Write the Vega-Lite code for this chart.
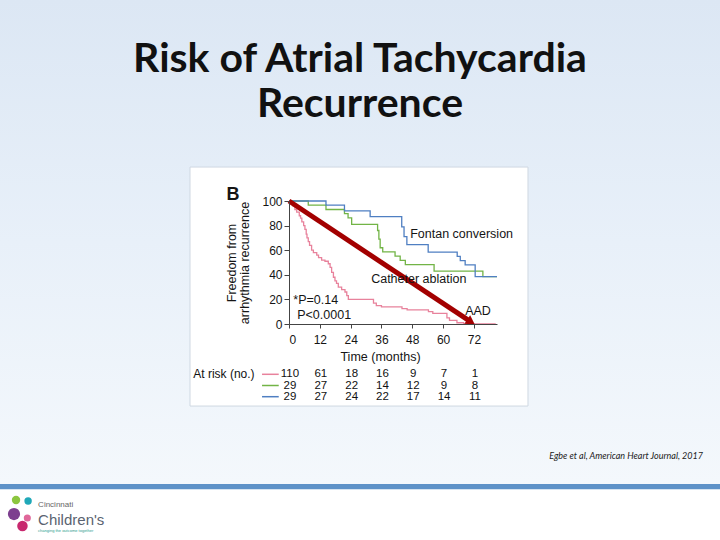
{
  "$schema": "https://vega.github.io/schema/vega-lite/v6.json",
  "autosize": {"type": "none"},
  "padding": {"left": 289, "top": 201, "right": 223, "bottom": 216},
  "width": 208,
  "height": 123,
  "background": "white",
  "title": {
    "text": ["Risk of Atrial Tachycardia", "Recurrence"],
    "font": "Lato",
    "fontSize": 41,
    "fontWeight": "bold",
    "color": "#111111",
    "anchor": "middle",
    "frame": "group",
    "dx": -33,
    "offset": -126,
    "lineHeight": 45
  },
  "config": {
    "view": {"stroke": null},
    "axis": {
      "labelFont": "Liberation Sans",
      "titleFont": "Liberation Sans",
      "labelFontSize": 12,
      "titleFontSize": 12.5,
      "titleFontWeight": "normal",
      "labelColor": "#151515",
      "titleColor": "#151515",
      "domainColor": "#444444",
      "tickColor": "#444444",
      "grid": false,
      "labelOverlap": false
    }
  },
  "data": {"values": [{}]},
  "datasets": {
    "km": [
      {"group": "Catheter ablation", "time": 0, "surv": 100},
      {"group": "Catheter ablation", "time": 7.5, "surv": 96.6},
      {"group": "Catheter ablation", "time": 14.4, "surv": 93.1},
      {"group": "Catheter ablation", "time": 21.6, "surv": 89.7},
      {"group": "Catheter ablation", "time": 23, "surv": 86.2},
      {"group": "Catheter ablation", "time": 24.4, "surv": 81},
      {"group": "Catheter ablation", "time": 34.5, "surv": 76},
      {"group": "Catheter ablation", "time": 35, "surv": 69},
      {"group": "Catheter ablation", "time": 35.5, "surv": 62},
      {"group": "Catheter ablation", "time": 36.5, "surv": 58.6},
      {"group": "Catheter ablation", "time": 41.3, "surv": 55.2},
      {"group": "Catheter ablation", "time": 43.3, "surv": 51.7},
      {"group": "Catheter ablation", "time": 45.3, "surv": 48.3},
      {"group": "Catheter ablation", "time": 56.5, "surv": 43},
      {"group": "Catheter ablation", "time": 75.5, "surv": 38.5},
      {"group": "Catheter ablation", "time": 81, "surv": 38.5},
      {"group": "Fontan conversion", "time": 0, "surv": 100},
      {"group": "Fontan conversion", "time": 14.4, "surv": 96.6},
      {"group": "Fontan conversion", "time": 21.6, "surv": 92},
      {"group": "Fontan conversion", "time": 31.6, "surv": 87.3},
      {"group": "Fontan conversion", "time": 43.9, "surv": 79},
      {"group": "Fontan conversion", "time": 44.8, "surv": 71},
      {"group": "Fontan conversion", "time": 45.9, "surv": 64.5},
      {"group": "Fontan conversion", "time": 54.2, "surv": 58.5},
      {"group": "Fontan conversion", "time": 65.5, "surv": 55},
      {"group": "Fontan conversion", "time": 66.7, "surv": 51.5},
      {"group": "Fontan conversion", "time": 68.6, "surv": 48},
      {"group": "Fontan conversion", "time": 72.5, "surv": 38.5},
      {"group": "Fontan conversion", "time": 81, "surv": 38.5},
      {"group": "AAD", "time": 0, "surv": 100},
      {"group": "AAD", "time": 1, "surv": 98},
      {"group": "AAD", "time": 1.5, "surv": 96},
      {"group": "AAD", "time": 2.3, "surv": 93},
      {"group": "AAD", "time": 3, "surv": 91},
      {"group": "AAD", "time": 4, "surv": 88},
      {"group": "AAD", "time": 4.5, "surv": 86},
      {"group": "AAD", "time": 5, "surv": 83},
      {"group": "AAD", "time": 5.7, "surv": 80},
      {"group": "AAD", "time": 6.2, "surv": 77},
      {"group": "AAD", "time": 6.7, "surv": 73},
      {"group": "AAD", "time": 7, "surv": 70},
      {"group": "AAD", "time": 7.5, "surv": 67},
      {"group": "AAD", "time": 8, "surv": 64},
      {"group": "AAD", "time": 8.8, "surv": 60},
      {"group": "AAD", "time": 9.5, "surv": 58},
      {"group": "AAD", "time": 10.8, "surv": 56},
      {"group": "AAD", "time": 11.5, "surv": 54},
      {"group": "AAD", "time": 12.7, "surv": 52},
      {"group": "AAD", "time": 14, "surv": 51},
      {"group": "AAD", "time": 15.3, "surv": 49},
      {"group": "AAD", "time": 16, "surv": 46},
      {"group": "AAD", "time": 16.6, "surv": 42},
      {"group": "AAD", "time": 17.3, "surv": 38},
      {"group": "AAD", "time": 17.9, "surv": 35},
      {"group": "AAD", "time": 18.5, "surv": 33},
      {"group": "AAD", "time": 19.2, "surv": 30},
      {"group": "AAD", "time": 20.5, "surv": 28},
      {"group": "AAD", "time": 21.8, "surv": 26},
      {"group": "AAD", "time": 22.5, "surv": 23},
      {"group": "AAD", "time": 23.1, "surv": 20},
      {"group": "AAD", "time": 32.9, "surv": 17},
      {"group": "AAD", "time": 34, "surv": 15},
      {"group": "AAD", "time": 36, "surv": 14},
      {"group": "AAD", "time": 44, "surv": 12.5},
      {"group": "AAD", "time": 46, "surv": 11.5},
      {"group": "AAD", "time": 54.3, "surv": 10},
      {"group": "AAD", "time": 56, "surv": 8.7},
      {"group": "AAD", "time": 61.5, "surv": 5},
      {"group": "AAD", "time": 62.5, "surv": 3},
      {"group": "AAD", "time": 65.4, "surv": 1},
      {"group": "AAD", "time": 68, "surv": 0},
      {"group": "AAD", "time": 80.5, "surv": 0}
    ],
    "atrisk": [
      {"group": "AAD", "time": 0, "n": 110},
      {"group": "AAD", "time": 12, "n": 61},
      {"group": "AAD", "time": 24, "n": 18},
      {"group": "AAD", "time": 36, "n": 16},
      {"group": "AAD", "time": 48, "n": 9},
      {"group": "AAD", "time": 60, "n": 7},
      {"group": "AAD", "time": 72, "n": 1},
      {"group": "Catheter ablation", "time": 0, "n": 29},
      {"group": "Catheter ablation", "time": 12, "n": 27},
      {"group": "Catheter ablation", "time": 24, "n": 22},
      {"group": "Catheter ablation", "time": 36, "n": 14},
      {"group": "Catheter ablation", "time": 48, "n": 12},
      {"group": "Catheter ablation", "time": 60, "n": 9},
      {"group": "Catheter ablation", "time": 72, "n": 8},
      {"group": "Fontan conversion", "time": 0, "n": 29},
      {"group": "Fontan conversion", "time": 12, "n": 27},
      {"group": "Fontan conversion", "time": 24, "n": 24},
      {"group": "Fontan conversion", "time": 36, "n": 22},
      {"group": "Fontan conversion", "time": 48, "n": 17},
      {"group": "Fontan conversion", "time": 60, "n": 14},
      {"group": "Fontan conversion", "time": 72, "n": 11}
    ],
    "groups": [
      {"group": "AAD"},
      {"group": "Catheter ablation"},
      {"group": "Fontan conversion"}
    ]
  },
  "layer": [
    {
      "layer": [
        {
          "mark": {"type": "rect", "color": {"gradient": "linear", "x1": 0, "y1": 0, "x2": 0, "y2": 1, "stops": [{"offset": 0, "color": "#dce7f4"}, {"offset": 0.5, "color": "#e8f0f9"}, {"offset": 1, "color": "#f4f8fc"}]}},
          "encoding": {"x": {"datum": -112.6}, "x2": {"datum": 168}, "y": {"datum": 263.5}, "y2": {"datum": -130.1}}
        },
        {
          "mark": {"type": "rect", "color": "#5e92c8"},
          "encoding": {"x": {"datum": -112.6}, "x2": {"datum": 168}, "y": {"datum": -130.1}, "y2": {"datum": -134.4}}
        },
        {
          "mark": {"type": "rect", "fill": "#ffffff", "stroke": "#cfd8e2", "strokeWidth": 1},
          "encoding": {"x": {"datum": -38.55}, "x2": {"datum": 93.07}, "y": {"datum": 127.6}, "y2": {"datum": -66.7}}
        },
        {
          "data": {"name": "km"},
          "mark": {"type": "line", "interpolate": "step-after", "strokeWidth": 1.3},
          "encoding": {
            "x": {
              "field": "time", "type": "quantitative",
              "scale": {"domain": [0, 81], "nice": false, "zero": false},
              "axis": {"values": [0, 12, 24, 36, 48, 60, 72], "tickCount": 20, "labelOverlap": false, "title": "Time (months)", "tickSize": 4, "labelPadding": 6, "titlePadding": 5, "titleX": 91, "titleAlign": "center", "zindex": 2}
            },
            "y": {
              "field": "surv", "type": "quantitative",
              "scale": {"domain": [0, 100], "nice": false, "zero": false},
              "axis": {"values": [0, 20, 40, 60, 80, 100], "tickCount": 20, "labelOverlap": false, "title": ["Freedom from", "arrhythmia recurrence"], "tickSize": 5, "labelPadding": 2, "titlePadding": 10, "titleLineHeight": 13.5, "zindex": 2}
            },
            "color": {
              "field": "group", "type": "nominal",
              "scale": {"domain": ["AAD", "Catheter ablation", "Fontan conversion"], "range": ["#e8829c", "#72b446", "#4f7fc2"]},
              "legend": null
            },
            "detail": {"field": "group"}
          }
        },
        {
          "mark": {"type": "rule", "color": "#a30000", "strokeWidth": 5},
          "encoding": {"x": {"datum": 0}, "y": {"datum": 100}, "x2": {"datum": 70.4}, "y2": {"datum": 2.3}}
        },
        {
          "mark": {"type": "point", "shape": "triangle", "filled": true, "color": "#a30000", "opacity": 1, "size": 110, "angle": 123.6},
          "encoding": {"x": {"datum": 70.4}, "y": {"datum": 2.3}}
        },
        {
          "mark": {"type": "text", "text": "Fontan conversion", "font": "Liberation Sans", "fontSize": 12.5, "align": "left", "baseline": "middle", "color": "#151515"},
          "encoding": {"x": {"datum": 47.2}, "y": {"datum": 73.2}}
        },
        {
          "mark": {"type": "text", "text": "Catheter ablation", "font": "Liberation Sans", "fontSize": 12.5, "align": "left", "baseline": "middle", "color": "#151515"},
          "encoding": {"x": {"datum": 32}, "y": {"datum": 36.6}}
        },
        {
          "mark": {"type": "text", "text": "AAD", "font": "Liberation Sans", "fontSize": 12.5, "align": "left", "baseline": "middle", "color": "#151515"},
          "encoding": {"x": {"datum": 68.6}, "y": {"datum": 10.8}}
        },
        {
          "mark": {"type": "text", "text": "*P=0.14", "font": "Liberation Sans", "fontSize": 12.5, "align": "left", "baseline": "middle", "color": "#151515"},
          "encoding": {"x": {"datum": 1.7}, "y": {"datum": 19.5}}
        },
        {
          "mark": {"type": "text", "text": "P<0.0001", "font": "Liberation Sans", "fontSize": 12.5, "align": "left", "baseline": "middle", "color": "#151515"},
          "encoding": {"x": {"datum": 3.2}, "y": {"datum": 7.3}}
        },
        {
          "mark": {"type": "text", "text": "B", "font": "Liberation Sans", "fontSize": 18, "fontWeight": "bold", "align": "center", "baseline": "middle", "color": "#151515"},
          "encoding": {"x": {"datum": -21.8}, "y": {"datum": 104.5}}
        },
        {
          "mark": {"type": "text", "text": "Egbe et al, American Heart Journal, 2017", "font": "Lato", "fontSize": 9, "fontStyle": "italic", "align": "right", "baseline": "middle", "color": "#222222"},
          "encoding": {"x": {"datum": 161.2}, "y": {"datum": -107.3}}
        },
        {
          "mark": {"type": "point", "shape": "circle", "filled": true, "opacity": 1, "size": 70, "color": "#8cc63f"},
          "encoding": {"x": {"datum": -106.3}, "y": {"datum": -143.1}}
        },
        {
          "mark": {"type": "point", "shape": "circle", "filled": true, "opacity": 1, "size": 55, "color": "#1fa8b8"},
          "encoding": {"x": {"datum": -101.6}, "y": {"datum": -143.9}}
        },
        {
          "mark": {"type": "point", "shape": "circle", "filled": true, "opacity": 1, "size": 150, "color": "#7d3f8f"},
          "encoding": {"x": {"datum": -107.1}, "y": {"datum": -154.5}}
        },
        {
          "mark": {"type": "point", "shape": "circle", "filled": true, "opacity": 1, "size": 110, "color": "#c8286e"},
          "encoding": {"x": {"datum": -103.8}, "y": {"datum": -164.2}}
        },
        {
          "mark": {"type": "point", "shape": "circle", "filled": true, "opacity": 1, "size": 50, "color": "#e0679a"},
          "encoding": {"x": {"datum": -101.9}, "y": {"datum": -157.7}}
        },
        {
          "mark": {"type": "text", "text": "Cincinnati", "font": "Liberation Sans", "fontSize": 8, "align": "left", "baseline": "middle", "color": "#666666"},
          "encoding": {"x": {"datum": -97.7}, "y": {"datum": -147.2}}
        },
        {
          "mark": {"type": "text", "text": "Children's", "font": "Liberation Sans", "fontSize": 15, "align": "left", "baseline": "middle", "color": "#5a6370"},
          "encoding": {"x": {"datum": -97.7}, "y": {"datum": -159.3}}
        },
        {
          "mark": {"type": "text", "text": "changing the outcome together", "font": "Liberation Sans", "fontSize": 4, "align": "left", "baseline": "middle", "color": "#2a9d8f"},
          "encoding": {"x": {"datum": -97.7}, "y": {"datum": -168.3}}
        }
      ]
    },
    {
      "data": {"name": "atrisk"},
      "layer": [
        {
          "mark": {"type": "text", "font": "Liberation Sans", "fontSize": 11.5, "align": "center", "baseline": "middle", "dx": 1, "color": "#111111"},
          "encoding": {
            "x": {"field": "time", "type": "quantitative"},
            "y": {"field": "group", "type": "nominal", "scale": {"type": "point", "domain": ["AAD", "Catheter ablation", "Fontan conversion"], "range": [173.3, 195.7], "padding": 0}, "axis": null},
            "text": {"field": "n", "type": "quantitative"}
          }
        },
        {
          "data": {"name": "groups"},
          "mark": {"type": "rule", "strokeWidth": 1.5},
          "encoding": {
            "x": {"datum": -10.5},
            "x2": {"datum": -4},
            "y": {"field": "group", "type": "nominal"},
            "color": {"field": "group", "type": "nominal", "legend": null}
          }
        },
        {
          "data": {"values": [{}]},
          "mark": {"type": "text", "text": "At risk (no.)", "font": "Liberation Sans", "fontSize": 12, "align": "left", "baseline": "middle", "color": "#111111"},
          "encoding": {"x": {"datum": -37.3}, "y": {"datum": "AAD", "type": "nominal"}}
        }
      ]
    }
  ],
  "resolve": {"scale": {"y": "independent"}}
}
